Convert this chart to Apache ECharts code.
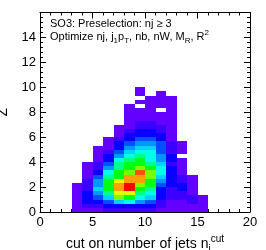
<!DOCTYPE html>
<html>
<head>
<meta charset="utf-8">
<script src="https://cdn.jsdelivr.net/npm/echarts@6/dist/echarts.min.js"></script>
<style>
html,body{margin:0;padding:0;background:#fff;}
#chart{width:266px;height:250px;}
</style>
</head>
<body>
<div id="chart"></div>
<script>
// x bins (lower edges, width 1) and y bins (width 1/3), Z level per cell from bottom row up
const xBinLow = [3, 4, 5, 6, 7, 8, 9, 10, 11, 12, 13, 14, 15];
const xBinWidth = 1;
const yBinWidth = 1 / 3;
const zCol3  = [1,1,1,1,1,1,1];
const zCol4  = [1,2,3,3,3,2,2,2,1,1,1,1];
const zCol5  = [1,2,3,4,5,6,5,5,4,3,2,2,1,1,1,1];
const zCol6  = [2,3,4,6,8,9,9,9,8,7,5,4,3,3,2,1,1,1];
const zCol7  = [2,3,6,10,11,12,12,11,9,9,8,8,7,5,4,3,3,2,1,1,1];
const zCol8  = [2,3,7,9,11,14,14,12,12,10,9,9,8,7,6,5,4,3,3,2,1,1,1,1,1,1];
const zCol9  = [2,3,5,7,8,9,10,12,12,13,10,9,9,8,7,6,5,4,3,3,2,2,1,1,1,0,1,0,1,1];
const zCol10 = [2,3,4,6,7,8,9,9,10,10,9,8,7,7,7,6,5,4,3,3,2,2,1,1,1,1,1,1];
const zCol11 = [1,2,2,3,3,3,4,5,6,7,7,6,5,5,4,4,4,3,3,2,2,1,1,1,0,1,1,1,1];
const zCol12 = [1,1,1,2,2,2,3,3,3,3,3,2,3,3,2,2,2,1,1,1,1,1,1,1,1,1,1,1];
const zCol13 = [1,1,1,2,2,3,3,2,2,1,1,1,1,0,1,1,1];
const zCol14 = [1,1,2,2,1,1,1,1,1];
const zCol15 = [1,1,1,1];
const zColumns = [zCol3, zCol4, zCol5, zCol6, zCol7, zCol8, zCol9, zCol10, zCol11, zCol12, zCol13, zCol14, zCol15];
const paletteColors = ['#6400ff','#3c00ff','#0a00ff','#0050ff','#0096ff','#00d2ff','#00ffe6','#00ff8c','#00ff14','#78ff00','#e6ff00','#ffa000','#ff5000','#ff0000'];
const xTicks = [0, 5, 10, 15, 20];
const yTickLabels = ['0','2','4','6','8','10','12','14'];

const cells = [];
xBinLow.forEach(function (x, i) {
  zColumns[i].forEach(function (z, k) {
    if (z > 0) cells.push([x, k * yBinWidth, z]);
  });
});

const font = 'Liberation Sans, Arial, Helvetica, sans-serif';
const chart = echarts.init(document.getElementById('chart'), null, {renderer: 'canvas'});

function renderItem(params, api) {
  const x0 = api.value(0), y0 = api.value(1);
  const pA = api.coord([x0, y0 + yBinWidth]);
  const pB = api.coord([x0 + xBinWidth, y0]);
  const x = Math.round(pA[0]), y = Math.round(pA[1]);
  return {
    type: 'rect',
    shape: {x: x, y: y, width: Math.round(pB[0]) - x, height: Math.round(pB[1]) - y},
    style: {fill: api.visual('color')}
  };
}

const axisCommon = {
  type: 'value',
  axisLine: {show: true, onZero: false, lineStyle: {color: '#000', width: 1}},
  axisTick: {show: true, inside: true, length: 6, lineStyle: {color: '#000'}},
  minorTick: {show: true, length: 3, lineStyle: {color: '#000'}},
  splitLine: {show: false},
  minorSplitLine: {show: false}
};

chart.setOption({
  animation: false,
  backgroundColor: '#fff',
  grid: {left: 40, right: 16, top: 12.5, bottom: 38, containLabel: false, outerBoundsMode: 'none'},
  xAxis: [
    Object.assign({}, axisCommon, {
      min: xTicks[0], max: xTicks[xTicks.length - 1], interval: 5, position: 'bottom',
      minorTick: Object.assign({}, axisCommon.minorTick, {splitNumber: 5}),
      axisLabel: {show: true, margin: 4, fontSize: 13, color: '#000', fontFamily: font},
      name: '{m|cut on number of jets n}{sub|j}{sup|cut}',
      nameLocation: 'middle', nameGap: 17,
      nameTextStyle: {
        fontFamily: font, color: '#000', fontSize: 14,
        rich: {
          m: {fontSize: 14, lineHeight: 20, fontFamily: font, color: '#000'},
          sub: {fontSize: 10, lineHeight: 10, verticalAlign: 'bottom', fontFamily: font, color: '#000'},
          sup: {fontSize: 10, lineHeight: 10, verticalAlign: 'top', fontFamily: font, color: '#000'}
        }
      }
    }),
    Object.assign({}, axisCommon, {
      min: 0, max: 20, interval: 5, position: 'top',
      minorTick: Object.assign({}, axisCommon.minorTick, {splitNumber: 5}),
      axisLabel: {show: false}
    })
  ],
  yAxis: [
    Object.assign({}, axisCommon, {
      min: 0, max: 16, interval: 2, position: 'left',
      minorTick: Object.assign({}, axisCommon.minorTick, {splitNumber: 5}),
      axisLabel: {show: true, margin: 4, fontSize: 13, color: '#000', fontFamily: font,
        formatter: function (v) { const s = String(v); return yTickLabels.indexOf(s) >= 0 ? s : ''; }},
      name: 'Z', nameLocation: 'middle', nameGap: 19, nameRotate: 90,
      nameTextStyle: {fontFamily: font, color: '#000', fontSize: 14}
    }),
    Object.assign({}, axisCommon, {
      min: 0, max: 16, interval: 2, position: 'right',
      minorTick: Object.assign({}, axisCommon.minorTick, {splitNumber: 5}),
      axisLabel: {show: false}
    })
  ],
  visualMap: {
    show: false, type: 'piecewise', dimension: 2, seriesIndex: 0,
    pieces: paletteColors.map(function (c, i) { return {value: i + 1, color: c}; })
  },
  series: [{
    type: 'custom',
    xAxisIndex: 0, yAxisIndex: 0,
    renderItem: renderItem,
    encode: {x: 0, y: 1},
    clip: true,
    data: cells
  }],
  graphic: [
    {type: 'text', left: 50, top: 18, z: 100,
     style: {text: 'SO3: Preselection: nj \u2265 3', fontFamily: font, fontSize: 11, fill: '#000'}},
    {type: 'text', left: 50, top: 29, z: 100,
     style: {
       text: '{m|Optimize nj, j}{sub|1}{m|p}{sub|T}{m|, nb, nW, M}{sub|R}{m|, R}{sup|2}',
       fontFamily: font, fontSize: 11, fill: '#000',
       rich: {
         m: {fontSize: 11, lineHeight: 16, fontFamily: font, fill: '#000'},
         sub: {fontSize: 8, lineHeight: 8, verticalAlign: 'bottom', fontFamily: font, fill: '#000'},
         sup: {fontSize: 8, lineHeight: 8, verticalAlign: 'top', fontFamily: font, fill: '#000'}
       }
     }}
  ]
});
</script>
</body>
</html>
